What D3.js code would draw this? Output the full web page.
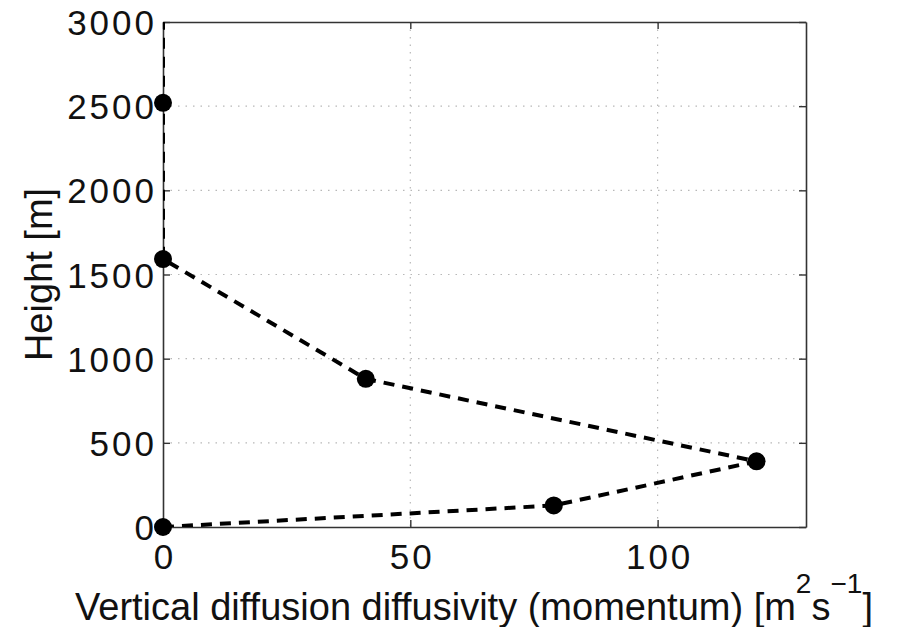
<!DOCTYPE html>
<html>
<head>
<meta charset="utf-8">
<script src="https://cdn.jsdelivr.net/npm/d3@7"></script>
<style>
  html, body { margin: 0; padding: 0; background: #fff; }
  svg { display: block; font-family: "Liberation Sans", Arial, Helvetica, sans-serif; }
</style>
</head>
<body>
<div id="chart"></div>
<script>
// Diffusivity profile (momentum) against height
const diffusivity = [0, 79, 120, 41, 0, 0, 0];
const heights = [0, 128, 390, 880, 1592, 2520, 3400];

const xTicks = [0, 50, 100];
const yTicks = [0, 500, 1000, 1500, 2000, 2500, 3000];

const width = 904, height = 627;
const margin = { top: 22, right: 98, bottom: 100, left: 163 };
const plotW = width - margin.left - margin.right;
const plotH = height - margin.top - margin.bottom;

const tickFont = 35, tickSpacing = 3;
const labelFont = 38;

const x = d3.scaleLinear().domain([0, 130]).range([0, plotW]);
const y = d3.scaleLinear().domain([0, 3000]).range([plotH, 0]);

const svg = d3.select('#chart')
  .append('svg')
  .attr('width', width)
  .attr('height', height);

const g = svg.append('g')
  .attr('transform', `translate(${margin.left},${margin.top})`);

svg.append('defs').append('clipPath')
  .attr('id', 'plot-clip')
  .append('rect')
  .attr('width', plotW)
  .attr('height', plotH);

// dotted grid
g.append('g')
  .selectAll('line')
  .data(xTicks.slice(1))
  .enter().append('line')
  .attr('x1', d => x(d)).attr('x2', d => x(d))
  .attr('y1', 0).attr('y2', plotH)
  .attr('stroke', '#b8b8b8')
  .attr('stroke-width', 1.2)
  .attr('stroke-dasharray', '1.5,6');

g.append('g')
  .selectAll('line')
  .data(yTicks.slice(1, -1))
  .enter().append('line')
  .attr('y1', d => y(d)).attr('y2', d => y(d))
  .attr('x1', 0).attr('x2', plotW)
  .attr('stroke', '#b8b8b8')
  .attr('stroke-width', 1.2)
  .attr('stroke-dasharray', '1.5,6');

// axes: ticks pointing inwards on all four sides
const tickLen = 7;
const styleAxis = sel => {
  sel.select('.domain').attr('stroke', '#333').attr('stroke-width', 1.6);
  sel.selectAll('.tick line').attr('stroke', '#333').attr('stroke-width', 1.4);
  sel.selectAll('.tick text')
    .attr('fill', '#111')
    .style('font-size', tickFont + 'px')
    .style('letter-spacing', tickSpacing + 'px');
};

g.append('g')
  .attr('transform', `translate(0,${plotH})`)
  .call(d3.axisBottom(x).tickValues(xTicks).tickSize(-tickLen).tickSizeOuter(0))
  .call(styleAxis)
  .call(a => a.selectAll('.tick text')
    .attr('dy', '0.71em').attr('y', 17).attr('x', tickSpacing / 2));

g.append('g')
  .call(d3.axisTop(x).tickValues(xTicks).tickSize(-tickLen).tickFormat('').tickSizeOuter(0))
  .call(styleAxis);

g.append('g')
  .call(d3.axisLeft(y).tickValues(yTicks).tickSize(-tickLen).tickFormat(d3.format('d')).tickSizeOuter(0))
  .call(styleAxis)
  .call(a => a.selectAll('.tick text').attr('x', -9 + tickSpacing).attr('dy', '0.36em'));

g.append('g')
  .attr('transform', `translate(${plotW},0)`)
  .call(d3.axisRight(y).tickValues(yTicks).tickSize(-tickLen).tickFormat('').tickSizeOuter(0))
  .call(styleAxis);

// dashed profile line
const pts = diffusivity.map((d, i) => [d, heights[i]]);

const line = d3.line()
  .x(d => x(d[0]))
  .y(d => y(d[1]));

g.append('path')
  .datum(pts)
  .attr('clip-path', 'url(#plot-clip)')
  .attr('d', line)
  .attr('fill', 'none')
  .attr('stroke', '#000')
  .attr('stroke-width', 4)
  .attr('stroke-dasharray', '11,8');

g.selectAll('.dot')
  .data(pts.filter(d => d[1] <= 3000))
  .enter().append('circle')
  .attr('class', 'dot')
  .attr('cx', d => x(d[0]))
  .attr('cy', d => y(d[1]))
  .attr('r', 9)
  .attr('fill', '#000');

// axis labels
const xl = svg.append('text')
  .attr('x', 75)
  .attr('y', 620)
  .attr('fill', '#111')
  .style('font-size', labelFont + 'px');
xl.append('tspan').text('Vertical diffusion diffusivity (momentum) [m');
xl.append('tspan').attr('dy', -27).style('font-size', '28px').text('2');
xl.append('tspan').attr('dy', 27).text('s');
xl.append('tspan').attr('dy', -27).style('font-size', '28px').text('\u22121');
xl.append('tspan').attr('dy', 27).text(']');

svg.append('text')
  .attr('transform', `translate(52,${margin.top + plotH / 2}) rotate(-90)`)
  .attr('text-anchor', 'middle')
  .attr('fill', '#111')
  .style('font-size', labelFont + 'px')
  .text('Height [m]');
</script>
</body>
</html>
